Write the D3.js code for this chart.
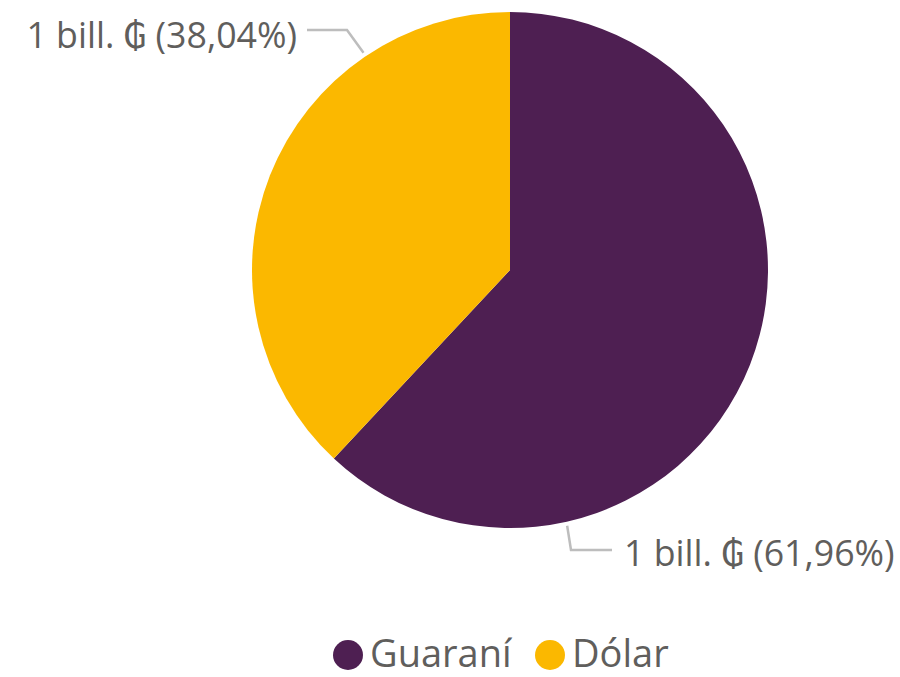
<!DOCTYPE html>
<html>
<head>
<meta charset="utf-8">
<script src="https://cdn.jsdelivr.net/npm/d3@7"></script>
<style>
  body { margin: 0; background: #fff; }
  text { font-family: "Segoe UI", "Open Sans", "DejaVu Sans", sans-serif; fill: #605E5C; }
</style>
</head>
<body>
<svg class="chart" width="900" height="677"></svg>
<script>
const categories = ["Guaraní", "Dólar"]
const shares = [61.96, 38.04]
const labels = ["1 bill. ₲ (61,96%)", "1 bill. ₲ (38,04%)"]
const colors = ["#4E1F52", "#FBB800"]

const svg = d3.select('.chart')
const cx = 510, cy = 270, r = 258

const pie = d3.pie().sort(null).value(d => d)
const arcs = pie(shares)
const arc = d3.arc().innerRadius(0).outerRadius(r)

const g = svg.append('g').attr('transform', `translate(${cx},${cy})`)
g.selectAll('path')
    .data(arcs)
    .join('path')
    .attr('d', arc)
    .attr('fill', (d, i) => colors[i])

// leader lines: angle where the line leaves the pie, elbow, end, label anchor
const leaders = [
    {angle: 167.4, elbow: [571, 550], end: [612, 550], text: [624, 566], anchor: 'start'},
    {angle: 326, elbow: [347, 30], end: [307, 30], text: [297, 48], anchor: 'end'}
]
const line = d3.line()
leaders.forEach(function(l, i){
    const a = l.angle * Math.PI / 180
    const start = [cx + Math.sin(a) * (r + 4), cy - Math.cos(a) * (r + 4)]
    svg.append('path')
        .attr('d', line([start, l.elbow, l.end]))
        .attr('fill', 'none')
        .attr('stroke', '#BDBDBD')
        .attr('stroke-width', 2.5)
    svg.append('text')
        .text(labels[i])
        .attr('x', l.text[0])
        .attr('y', l.text[1])
        .attr('text-anchor', l.anchor)
        .attr('font-size', '35.7px')
})

// legend
const legendX = [348, 550]
const legend = svg.selectAll('.legend')
    .data(categories)
    .join('g')
    .attr('class', 'legend')
    .attr('transform', (d, i) => `translate(${legendX[i]},655)`)
legend.append('circle')
    .attr('r', 15)
    .attr('fill', (d, i) => colors[i])
legend.append('text')
    .text(d => d)
    .attr('x', 22)
    .attr('y', 12)
    .attr('font-size', '38px')
</script>
</body>
</html>
